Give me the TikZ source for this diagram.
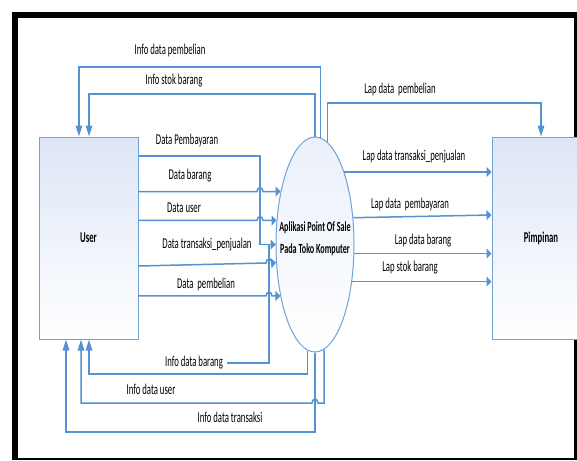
\documentclass[tikz,border=0pt]{standalone}
\usepackage{fontspec}
\setmainfont{Carlito}[FakeStretch=0.58]
\usepackage{tikz}
\usetikzlibrary{positioning,shapes,arrows.meta}
\definecolor{flowblue}{RGB}{84,146,210}
\definecolor{edgeblue}{RGB}{112,162,216}
\definecolor{fillblue}{RGB}{221,230,246}

\begin{document}
\begin{tikzpicture}[x=1pt,y=-1pt,
  every node/.style={font=\fontsize{15}{18}\selectfont},
  entity/.style={draw=edgeblue,line width=1pt,top color=fillblue,bottom color=white,minimum width=99pt,minimum height=202pt,inner sep=0pt,font=\bfseries\fontsize{15}{18}\selectfont},
  process/.style={ellipse,draw=edgeblue,line width=1pt,top color=fillblue!60,bottom color=white,minimum width=78pt,minimum height=215pt,inner sep=0pt},
  lbl/.style={inner sep=1pt},
  link/.style={draw=flowblue,line width=1.5pt},
  flow/.style={link,-{Triangle[length=5pt,width=10pt]}},
  flowv/.style={link,-{Triangle[length=11pt,width=6.5pt]}}]
\useasboundingbox (0,0) rectangle (577,460);
\fill[black] (12,12) rectangle (577,460);
\fill[white] (18,18) rectangle (574,458);

\node[entity] (user) at (88.5,238) {User};
\node[entity,minimum width=98pt] (pimpinan) at (541,238) {Pimpinan};
\node[process] (app) at (315,244.5) {};
\node[font=\bfseries\fontsize{14}{22}\selectfont,align=center] (applbl) at (315,239) {Aplikasi Point Of Sale\\Pada Toko Komputer};

\node[lbl] (lpembelian) at (170,51) {Info data pembelian};
\node[lbl] (lstok) at (174,81) {Info stok barang};
\node[lbl] (lbayar) at (187,140) {Data Pembayaran};
\node[lbl] (lbarang) at (190,176) {Data barang};
\node[lbl] (luser) at (184,208) {Data user};
\node[lbl] (ljual) at (207,245) {Data transaksi\_penjualan};
\node[lbl] (lbeli) at (206,284) {Data\ \ pembelian};
\node[lbl,inner sep=4pt] (libarang) at (194,363) {Info data barang};
\node[lbl] (liuser) at (151,389) {Info data user};
\node[lbl] (litrans) at (230,417) {Info data transaksi};
\node[lbl] (lappembelian) at (400,89) {Lap data\ \ pembelian};
\node[lbl] (lapjual) at (414,157) {Lap data transaksi\_penjualan};
\node[lbl] (lapbayar) at (410,204) {Lap data\ \ pembayaran};
\node[lbl] (lapbarang) at (423,241) {Lap data barang};
\node[lbl] (lapstok) at (410,268) {Lap stok barang};

\draw[flow] (user.east |- 0,156) -| (app.west -| 260,0) -- (app.west);
\draw[flow] (user.east |- app.123) -- (app.123 -| 257,0) .. controls +(0,-5) and +(0,-5) .. (app.123 -| 263,0) -- (app.123);
\draw[flow] (user.east |- app.148) -- (app.148 -| 257,0) .. controls +(0,-5) and +(0,-5) .. (app.148 -| 263,0) -- (app.148);
\draw[flow] (user.east |- 0,266) -- (266,263) .. controls +(0,-5) and +(0,-5) .. (272,263) -- (app.205);
\draw[flow] (user.east |- app.236) -- (app.236 -| 266,0) .. controls +(0,-5) and +(0,-5) .. (app.236 -| 272,0) -- (app.236);
\draw[link] (app.west) -| (libarang.east -| 269,0) -- (libarang.east);

\draw[flowv] (app.87) |- (79,67) -- (user.north -| 79,0);
\draw[flowv] (app.north) |- (89,94) -- (user.north -| 89,0);
\draw[flowv] (app.266) |- (89,374) -- (user.south -| 89,0);
\draw[flowv] (app.275) |- (318,403) .. controls +(0,-5) and +(0,-5) .. (312,403) -- (81,403) -- (user.south -| 81,0);
\draw[flowv] (app.south) |- (66,432) -- (user.south -| 66,0);

\draw[flowv] (app.83) |- (541,103) -- (pimpinan.north -| 541,0);
\draw[flow] (app.68) -- (pimpinan.west |- app.68);
\draw[flow] (app.35) -- (pimpinan.west |- 0,215);
\draw[flow] (app.347) -- (pimpinan.west |- app.347);
\draw[flow] (app.315) -- (pimpinan.west |- app.315);
\end{tikzpicture}
\end{document}
